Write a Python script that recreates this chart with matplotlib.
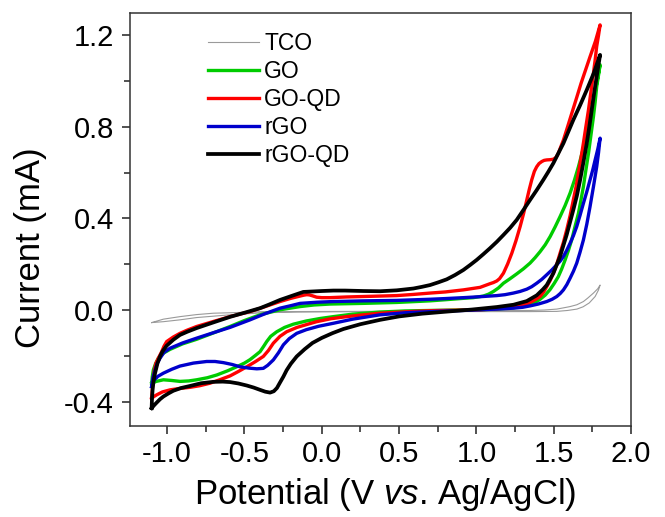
import matplotlib
matplotlib.use('Agg')
import matplotlib.pyplot as plt
from matplotlib.ticker import MultipleLocator

plt.rcParams['font.family'] = ['Liberation Sans', 'DejaVu Sans']
plt.rcParams['mathtext.fontset'] = 'custom'
plt.rcParams['mathtext.rm'] = 'Liberation Sans'
plt.rcParams['mathtext.it'] = 'Liberation Sans:italic'

# Cyclic voltammograms: potential (V vs Ag/AgCl) and current (mA),
# each loop runs from -1.1 V up to 1.8 V and back again.
tco_v = [-1.100, -1.024, -0.917, -0.809, -0.593, -0.378, -0.162, 0.269, 0.916, 1.347, 1.520, 1.590, 1.650, 1.690,
         1.730, 1.768, 1.790, 1.800,
         1.785, 1.757, 1.720, 1.692, 1.650, 1.606, 1.560, 1.520, 1.440, 1.347, 0.916, 0.269, -0.378, -0.593, -0.701,
         -0.809, -0.917, -1.024, -1.100]
tco_i = [-0.055, -0.051, -0.043, -0.033, -0.021, -0.012, -0.009, -0.007, -0.007, -0.007, -0.006, -0.002, 0.004, 0.014,
         0.031, 0.059, 0.088, 0.109,
         0.093, 0.074, 0.052, 0.037, 0.023, 0.015, 0.009, 0.004, 0.000, -0.002, -0.003, -0.006, -0.007, -0.012, -0.014,
         -0.020, -0.029, -0.040, -0.055]

go_v = [-1.100, -1.070, -1.024, -0.970, -0.917, -0.860, -0.809, -0.740, -0.679, -0.610, -0.550, -0.500, -0.464, -0.430,
        -0.399, -0.375, -0.356, -0.330, -0.291, -0.240, -0.184, -0.100, -0.010, 0.075, 0.200, 0.377, 0.540, 0.700,
        0.870, 1.024, 1.140, 1.239, 1.300, 1.347, 1.380, 1.412, 1.445, 1.477, 1.504, 1.530, 1.552, 1.574, 1.596,
        1.617, 1.638, 1.660, 1.676, 1.692, 1.708, 1.725, 1.741, 1.757, 1.768, 1.778, 1.790, 1.800,
        1.778, 1.757, 1.735, 1.714, 1.688, 1.660, 1.633, 1.606, 1.574, 1.541, 1.509, 1.477, 1.445, 1.412, 1.380,
        1.347, 1.304, 1.261, 1.218, 1.175, 1.142, 1.110, 1.078, 1.045, 0.980, 0.916, 0.800, 0.700, 0.485, 0.269,
        0.054, -0.050, -0.140, -0.270, -0.399, -0.500, -0.593, -0.700, -0.809, -0.900, -0.981, -1.025, -1.057,
        -1.075, -1.089, -1.096, -1.100]
go_i = [-0.320, -0.312, -0.305, -0.308, -0.312, -0.310, -0.305, -0.296, -0.284, -0.266, -0.248, -0.232, -0.217, -0.199,
        -0.182, -0.158, -0.138, -0.115, -0.095, -0.076, -0.062, -0.048, -0.037, -0.029, -0.018, -0.009, -0.004, -0.002,
        0.000, 0.001, 0.005, 0.010, 0.016, 0.024, 0.033, 0.047, 0.065, 0.090, 0.117, 0.146, 0.180, 0.219, 0.262,
        0.308, 0.365, 0.423, 0.480, 0.539, 0.611, 0.685, 0.765, 0.845, 0.909, 0.976, 1.027, 1.072,
        0.991, 0.918, 0.843, 0.772, 0.698, 0.626, 0.565, 0.511, 0.457, 0.408, 0.363, 0.321, 0.285, 0.255, 0.229,
        0.205, 0.180, 0.158, 0.137, 0.117, 0.096, 0.081, 0.069, 0.061, 0.054, 0.051, 0.045, 0.040, 0.033, 0.029,
        0.026, 0.022, 0.015, 0.001, -0.021, -0.046, -0.072, -0.100, -0.128, -0.148, -0.172, -0.189, -0.211,
        -0.235, -0.262, -0.292, -0.320]

goqd_v = [-1.100, -1.085, -1.068, -1.030, -0.981, -0.920, -0.852, -0.790, -0.723, -0.660, -0.593, -0.540, -0.485,
          -0.430, -0.378, -0.345, -0.313, -0.270, -0.227, -0.160, -0.090, -0.033, 0.060, 0.161, 0.270, 0.377, 0.540,
          0.700, 0.860, 1.024, 1.140, 1.239, 1.300, 1.347, 1.380, 1.412, 1.435, 1.455, 1.477, 1.498, 1.520, 1.541,
          1.563, 1.584, 1.606, 1.627, 1.644, 1.660, 1.676, 1.692, 1.708, 1.725, 1.741, 1.757, 1.768, 1.778, 1.790,
          1.800,
          1.770, 1.735, 1.706, 1.677, 1.647, 1.617, 1.590, 1.563, 1.545, 1.530, 1.515, 1.498, 1.477, 1.455, 1.438,
          1.423, 1.405, 1.390, 1.375, 1.358, 1.342, 1.326, 1.305, 1.283, 1.256, 1.229, 1.202, 1.175, 1.150, 1.132,
          1.110, 1.088, 1.024, 0.916, 0.800, 0.700, 0.590, 0.485, 0.380, 0.269, 0.160, 0.054, 0.000, -0.033, -0.060,
          -0.080, -0.097, -0.115, -0.140, -0.200, -0.270, -0.370, -0.464, -0.530, -0.593, -0.700, -0.809, -0.870,
          -0.917, -0.960, -1.003, -1.020, -1.035, -1.055, -1.072, -1.082, -1.089, -1.095, -1.100]
goqd_i = [-0.386, -0.378, -0.371, -0.358, -0.349, -0.343, -0.338, -0.331, -0.320, -0.305, -0.288, -0.269, -0.248,
          -0.226, -0.203, -0.177, -0.145, -0.115, -0.095, -0.076, -0.062, -0.051, -0.038, -0.029, -0.021, -0.014,
          -0.008, -0.003, -0.001, 0.001, 0.006, 0.012, 0.021, 0.033, 0.045, 0.059, 0.079, 0.102, 0.129, 0.161, 0.201,
          0.248, 0.296, 0.350, 0.412, 0.481, 0.537, 0.598, 0.662, 0.729, 0.801, 0.875, 0.955, 1.035, 1.093, 1.152,
          1.201, 1.246,
          1.175, 1.107, 1.049, 0.991, 0.925, 0.860, 0.801, 0.743, 0.712, 0.685, 0.667, 0.659, 0.657, 0.656, 0.654,
          0.649, 0.640, 0.626, 0.606, 0.569, 0.527, 0.481, 0.421, 0.365, 0.303, 0.248, 0.201, 0.161, 0.137, 0.127,
          0.120, 0.115, 0.099, 0.088, 0.079, 0.074, 0.068, 0.063, 0.061, 0.059, 0.057, 0.054, 0.054, 0.056, 0.062,
          0.066, 0.067, 0.065, 0.061, 0.051, 0.037, 0.014, -0.007, -0.018, -0.029, -0.050, -0.072, -0.088,
          -0.102, -0.118, -0.138, -0.158, -0.182, -0.208, -0.232, -0.261, -0.291, -0.338, -0.386]

rgo_v = [-1.100, -1.085, -1.060, -1.024, -0.970, -0.917, -0.830, -0.744, -0.690, -0.636, -0.580, -0.529, -0.470,
         -0.420, -0.378, -0.350, -0.313, -0.280, -0.248, -0.210, -0.162, -0.100, -0.020, 0.075, 0.200, 0.377, 0.540,
         0.700, 0.916, 1.132, 1.239, 1.300, 1.347, 1.400, 1.455, 1.490, 1.520, 1.542, 1.563, 1.585, 1.606, 1.628,
         1.649, 1.670, 1.692, 1.714, 1.735, 1.757, 1.778, 1.790, 1.800,
         1.785, 1.768, 1.752, 1.735, 1.714, 1.692, 1.670, 1.649, 1.628, 1.606, 1.585, 1.563, 1.542, 1.520, 1.488,
         1.455, 1.423, 1.390, 1.358, 1.326, 1.282, 1.239, 1.185, 1.132, 1.020, 0.916, 0.800, 0.700, 0.485, 0.269,
         0.075, -0.030, -0.140, -0.200, -0.270, -0.370, -0.464, -0.593, -0.700, -0.809, -0.900, -0.981, -1.020,
         -1.046, -1.065, -1.078, -1.092, -1.100]
rgo_i = [-0.335, -0.307, -0.290, -0.276, -0.259, -0.245, -0.232, -0.225, -0.225, -0.230, -0.238, -0.248, -0.254,
         -0.257, -0.255, -0.242, -0.218, -0.187, -0.152, -0.125, -0.102, -0.086, -0.071, -0.058, -0.040, -0.021, -0.012,
         -0.007, -0.002, 0.004, 0.008, 0.012, 0.018, 0.026, 0.037, 0.047, 0.059, 0.072, 0.088, 0.111, 0.139, 0.170,
         0.205, 0.252, 0.306, 0.375, 0.452, 0.539, 0.626, 0.688, 0.751,
         0.703, 0.656, 0.611, 0.569, 0.517, 0.466, 0.413, 0.365, 0.326, 0.292, 0.262, 0.234, 0.214, 0.198, 0.175,
         0.154, 0.134, 0.117, 0.102, 0.091, 0.081, 0.074, 0.067, 0.063, 0.058, 0.054, 0.050, 0.047, 0.042, 0.040,
         0.037, 0.034, 0.029, 0.019, 0.008, -0.017, -0.043, -0.076, -0.099, -0.123, -0.144, -0.167, -0.185,
         -0.211, -0.235, -0.262, -0.297, -0.335]

rgoqd_v = [-1.100, -1.085, -1.068, -1.046, -1.024, -0.990, -0.960, -0.910, -0.852, -0.780, -0.701, -0.640, -0.593,
           -0.540, -0.485, -0.440, -0.399, -0.365, -0.334, -0.310, -0.290, -0.270, -0.248, -0.227, -0.200, -0.162,
           -0.110, -0.060, 0.000, 0.070, 0.140, 0.250, 0.377, 0.500, 0.650, 0.808, 0.970, 1.132, 1.240, 1.326, 1.390,
           1.430, 1.455, 1.498, 1.541, 1.584, 1.627, 1.650, 1.671, 1.692, 1.714, 1.730, 1.746, 1.762, 1.778, 1.790,
           1.800,
           1.760, 1.714, 1.670, 1.627, 1.595, 1.563, 1.530, 1.498, 1.465, 1.433, 1.390, 1.347, 1.304, 1.261, 1.218,
           1.175, 1.132, 1.088, 1.045, 1.002, 0.960, 0.916, 0.862, 0.808, 0.754, 0.700, 0.646, 0.593, 0.485, 0.377,
           0.270, 0.150, 0.075, 0.000, -0.060, -0.119, -0.180, -0.270, -0.340, -0.399, -0.500, -0.593, -0.700, -0.809,
           -0.870, -0.917, -0.960, -1.003, -1.030, -1.046, -1.062, -1.078, -1.088, -1.094, -1.098, -1.100]
rgoqd_i = [-0.429, -0.417, -0.405, -0.390, -0.378, -0.364, -0.353, -0.341, -0.332, -0.320, -0.314, -0.313, -0.315,
           -0.321, -0.330, -0.339, -0.349, -0.357, -0.361, -0.355, -0.341, -0.317, -0.291, -0.263, -0.235, -0.203,
           -0.171, -0.144, -0.122, -0.101, -0.083, -0.062, -0.043, -0.028, -0.016, -0.007, 0.002, 0.013, 0.023, 0.039,
           0.064, 0.090, 0.109, 0.161, 0.234, 0.329, 0.438, 0.500, 0.569, 0.645, 0.729, 0.799, 0.875, 0.950, 1.020,
           1.073, 1.115,
           1.037, 0.962, 0.894, 0.831, 0.780, 0.729, 0.685, 0.642, 0.604, 0.569, 0.524, 0.481, 0.437, 0.394, 0.359,
           0.328, 0.298, 0.270, 0.244, 0.219, 0.197, 0.175, 0.153, 0.134, 0.121, 0.109, 0.101, 0.094, 0.086, 0.082,
           0.083, 0.085, 0.085, 0.083, 0.081, 0.079, 0.065, 0.044, 0.024, 0.008, -0.012, -0.030, -0.054, -0.079,
           -0.095, -0.109, -0.130, -0.156, -0.181, -0.203, -0.232, -0.276, -0.312, -0.349, -0.389, -0.429]

fig = plt.figure(figsize=(6.65, 5.17), dpi=100)
ax = fig.add_axes([0.1955, 0.176, 0.7534, 0.7988])

ax.plot(tco_v, tco_i, color='#9a9a9a', lw=0.8, label='TCO')
ax.plot(go_v, go_i, color='#00cc00', lw=2.4, label='GO')
ax.plot(goqd_v, goqd_i, color='#ff0000', lw=2.4, label='GO-QD')
ax.plot(rgo_v, rgo_i, color='#0000cc', lw=2.4, label='rGO')
ax.plot(rgoqd_v, rgoqd_i, color='black', lw=2.7, label='rGO-QD')

ax.set_xlim(-1.24, 2.0)
ax.set_ylim(-0.507, 1.298)
ax.xaxis.set_major_locator(MultipleLocator(0.5))
ax.xaxis.set_minor_locator(MultipleLocator(0.25))
ax.yaxis.set_major_locator(MultipleLocator(0.4))
ax.yaxis.set_minor_locator(MultipleLocator(0.2))
ax.xaxis.set_major_formatter(plt.FormatStrFormatter('%.1f'))
ax.yaxis.set_major_formatter(plt.FormatStrFormatter('%.1f'))

ax.tick_params(which='both', direction='out', top=False, right=False, width=1.1, colors='#222222', labelcolor='black')
ax.tick_params(which='major', length=6, labelsize=21)
ax.tick_params(axis='y', which='major', pad=5.5)
ax.tick_params(axis='x', which='major', pad=4)
ax.tick_params(which='minor', length=4)
for s in ax.spines.values():
    s.set_linewidth(1.1)
    s.set_color('#333333')

ax.set_xlabel(r'Potential (V $\mathit{vs}$. Ag/AgCl)', fontsize=25)
ax.set_ylabel('Current (mA)', fontsize=25)
ax.xaxis.set_label_coords(0.509, -0.12)
ax.yaxis.set_label_coords(-0.165, 0.433)

ax.legend(loc='upper left', bbox_to_anchor=(0.156, 0.955), frameon=False, fontsize=16.5,
          handlelength=2.2, handletextpad=0.25, labelspacing=0.22, borderpad=0, borderaxespad=0)

fig.savefig('out.png', dpi=100)
